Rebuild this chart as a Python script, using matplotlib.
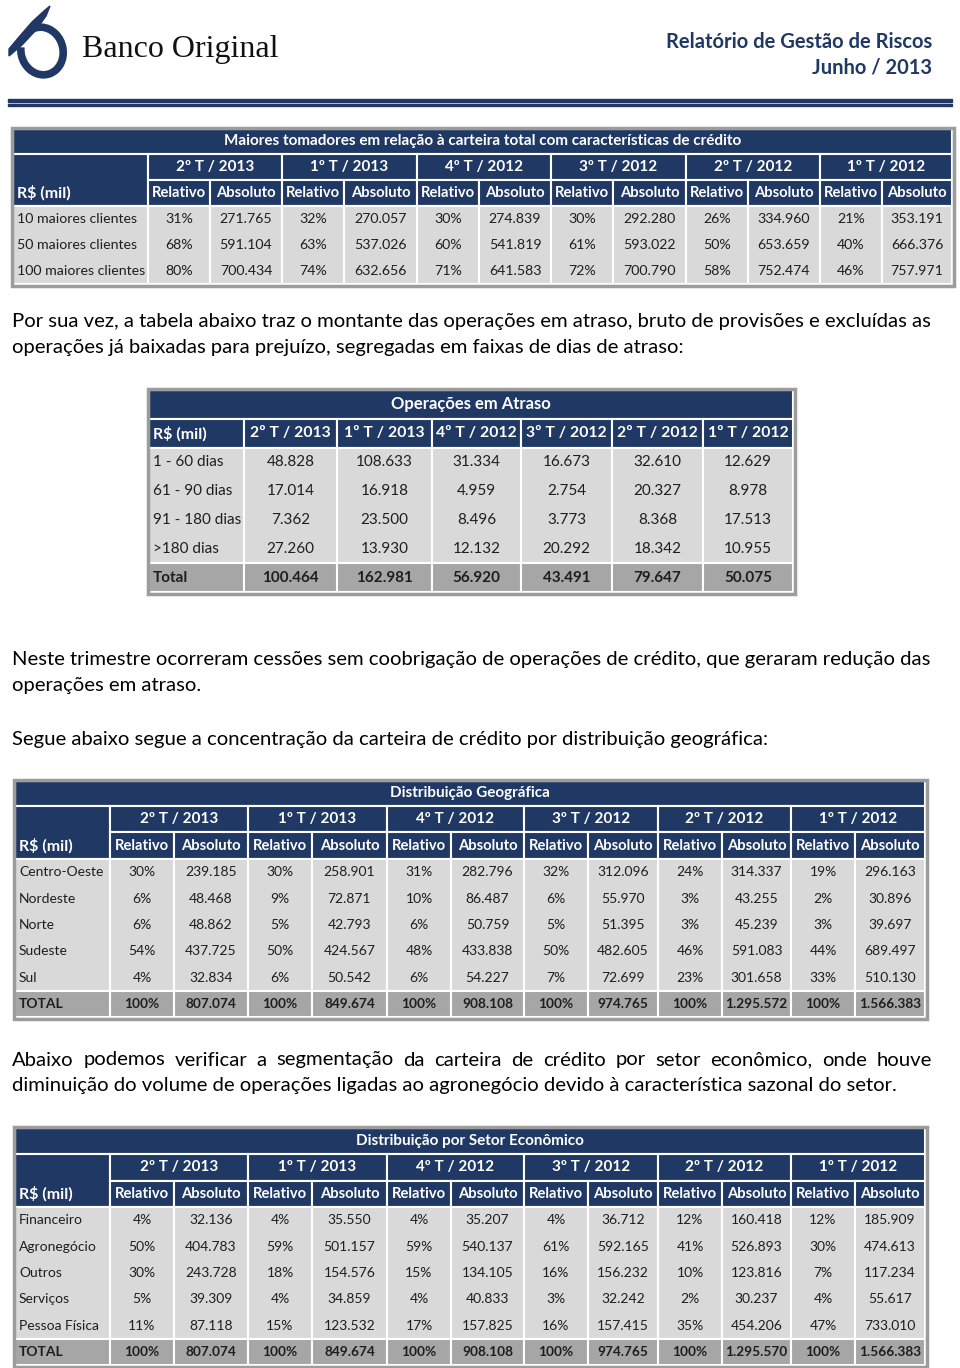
import matplotlib
matplotlib.use('Agg')
import matplotlib.pyplot as plt
from matplotlib.patches import Rectangle, Arc, Polygon

# periods shown in every table
periods = ['2º T / 2013', '1º T / 2013', '4º T / 2012', '3º T / 2012', '2º T / 2012', '1º T / 2012']

# maiores tomadores
top_rows = ['10 maiores clientes', '50 maiores clientes', '100 maiores clientes']
top_rel = [[31, 32, 30, 30, 26, 21],
           [68, 63, 60, 61, 50, 40],
           [80, 74, 71, 72, 58, 46]]
top_abs = [[271765, 270057, 274839, 292280, 334960, 353191],
           [591104, 537026, 541819, 593022, 653659, 666376],
           [700434, 632656, 641583, 700790, 752474, 757971]]

# operacoes em atraso
atraso_rows = ['1 - 60 dias', '61 - 90 dias', '91 - 180 dias', '>180 dias']
atraso_vals = [[48828, 108633, 31334, 16673, 32610, 12629],
               [17014, 16918, 4959, 2754, 20327, 8978],
               [7362, 23500, 8496, 3773, 8368, 17513],
               [27260, 13930, 12132, 20292, 18342, 10955]]
atraso_total = [100464, 162981, 56920, 43491, 79647, 50075]

# distribuicao geografica
geo_rows = ['Centro-Oeste', 'Nordeste', 'Norte', 'Sudeste', 'Sul']
geo_rel = [[30, 30, 31, 32, 24, 19],
           [6, 9, 10, 6, 3, 2],
           [6, 5, 6, 5, 3, 3],
           [54, 50, 48, 50, 46, 44],
           [4, 6, 6, 7, 23, 33]]
geo_abs = [[239185, 258901, 282796, 312096, 314337, 296163],
           [48468, 72871, 86487, 55970, 43255, 30896],
           [48862, 42793, 50759, 51395, 45239, 39697],
           [437725, 424567, 433838, 482605, 591083, 689497],
           [32834, 50542, 54227, 72699, 301658, 510130]]
geo_total = [807074, 849674, 908108, 974765, 1295572, 1566383]

# distribuicao por setor
setor_rows = ['Financeiro', 'Agronegócio', 'Outros', 'Serviços', 'Pessoa Física']
setor_rel = [[4, 4, 4, 4, 12, 12],
             [50, 59, 59, 61, 41, 30],
             [30, 18, 15, 16, 10, 7],
             [5, 4, 4, 3, 2, 4],
             [11, 15, 17, 16, 35, 47]]
setor_abs = [[32136, 35550, 35207, 36712, 160418, 185909],
             [404783, 501157, 540137, 592165, 526893, 474613],
             [243728, 154576, 134105, 156232, 123816, 117234],
             [39309, 34859, 40833, 32242, 30237, 55617],
             [87118, 123532, 157825, 157415, 454206, 733010]]
setor_total = [807074, 849674, 908108, 974765, 1295570, 1566383]

NAVY = '#1f3864'
GRAY = '#d9d9d9'
TOTAL_GRAY = '#a6a6a6'
BORDER = '#9c9c9c'
TXT = '#1e1e1e'
FONT = 'Lato'
BODY = 14.6

fig = plt.figure(figsize=(9.6, 13.68), dpi=100)
ax = fig.add_axes([0, 0, 1, 1])
ax.set_xlim(0, 960)
ax.set_ylim(1368, 0)
ax.axis('off')


def br(v):
    return f'{v:,}'.replace(',', '.')


def cell(x0, x1, y0, y1, color):
    ax.add_patch(Rectangle((x0, y0), x1 - x0, y1 - y0, facecolor=color,
                           edgecolor='white', linewidth=1.5))


def txt(x, y, s, ha='center', color=TXT, bold=False, size=9.5):
    ax.text(x, y, s, ha=ha, va='center', color=color, fontsize=size,
            family=FONT, fontweight='bold' if bold else 'normal')


# ---- page header ----
ax.add_patch(Arc((42, 51), 42, 48, angle=-15, theta1=-110, theta2=205, color=NAVY, lw=5.5))
ax.add_patch(Polygon([(50, 6), (46, 16), (36, 30), (22, 45), (9, 56), (9, 49),
                      (19, 37), (32, 22), (44, 11)], closed=True, color=NAVY))
ax.text(82, 50, 'Banco Original', family='Liberation Serif', fontsize=23,
        va='center', ha='left', color='#111111')
ax.text(932, 42, 'Relatório de Gestão de Riscos', family=FONT, fontweight='bold',
        fontsize=14.5, ha='right', va='center', color=NAVY)
ax.text(932, 68, 'Junho / 2013', family=FONT, fontweight='bold',
        fontsize=14.5, ha='right', va='center', color=NAVY)
ax.add_patch(Rectangle((8, 98.5), 944, 3, color=NAVY))
ax.add_patch(Rectangle((8, 103.5), 944, 2.5, color=NAVY))


def grouped_table(title, labels, rel, absv, xs, y_top, head_h, row_h, rel_w,
                  total=None, size=10.2, head=10.6):
    left, right = xs[0], xs[-1]
    y1 = y_top + head_h[0]
    y2 = y1 + head_h[1]
    y3 = y2 + head_h[2]
    n = len(labels)
    y4 = y3 + n * row_h
    y5 = y4 + (row_h if total is not None else 0)
    ax.add_patch(Rectangle((left - 1.5, y_top - 1.5), right - left + 3, y5 - y_top + 3,
                           fill=False, edgecolor=BORDER, linewidth=2.5, zorder=5))
    cell(left, right, y_top, y1, NAVY)
    txt((left + right) / 2, (y_top + y1) / 2, title, color='white', bold=True, size=11)
    cell(left, xs[1], y1, y3, NAVY)
    txt(left + 4, (y2 + y3) / 2, 'R$ (mil)', ha='left', color='white', bold=True, size=11.5)
    cell(left, xs[1], y3, y4, GRAY)
    for r, lab in enumerate(labels):
        txt(left + 4, y3 + (r + 0.5) * row_h, lab, ha='left', size=size)
    if total is not None:
        cell(left, xs[1], y4, y5, TOTAL_GRAY)
        txt(left + 4, (y4 + y5) / 2, 'TOTAL', ha='left', bold=True, size=size)
    for i, per in enumerate(periods):
        g0, g1 = xs[i + 1], xs[i + 2]
        gm = g0 + rel_w
        cell(g0, g1, y1, y2, NAVY)
        txt((g0 + g1) / 2, (y1 + y2) / 2, per, color='white', bold=True, size=11)
        cell(g0, gm, y2, y3, NAVY)
        txt((g0 + gm) / 2, (y2 + y3) / 2, 'Relativo', color='white', bold=True, size=head)
        cell(gm, g1, y2, y3, NAVY)
        txt((gm + g1) / 2, (y2 + y3) / 2, 'Absoluto', color='white', bold=True, size=head)
        cell(g0, gm, y3, y4, GRAY)
        cell(gm, g1, y3, y4, GRAY)
        for r in range(n):
            yc = y3 + (r + 0.5) * row_h
            txt((g0 + gm) / 2, yc, f'{rel[r][i]}%', size=size)
            txt((gm + g1) / 2, yc, br(absv[r][i]), size=size)
        if total is not None:
            cell(g0, gm, y4, y5, TOTAL_GRAY)
            cell(gm, g1, y4, y5, TOTAL_GRAY)
            txt((g0 + gm) / 2, (y4 + y5) / 2, '100%', bold=True, size=size - 0.2)
            txt((gm + g1) / 2, (y4 + y5) / 2, br(total[i]), bold=True, size=size - 0.2)


grouped_table('Maiores tomadores em relação à carteira total com características de crédito',
              top_rows, top_rel, top_abs,
              [13, 148, 282, 417, 551, 686, 820, 952], 129, [25, 26, 26], 26, 62, size=10.2)

# ---- paragraph 1 ----
ax.text(12, 322, 'Por sua vez, a tabela abaixo traz o montante das operações em atraso, bruto de provisões e excluídas as',
        family=FONT, fontsize=BODY, va='center', ha='left')
ax.text(12, 348, 'operações já baixadas para prejuízo, segregadas em faixas de dias de atraso:',
        family=FONT, fontsize=BODY, va='center', ha='left')

# ---- operacoes em atraso ----
xs2 = [149, 244, 337, 432, 521, 612, 703, 793]
ys2 = [390, 419, 448]
rh2 = 28.8
n2 = len(atraso_rows)
yb2 = ys2[2] + n2 * rh2
yt2 = yb2 + rh2
ax.add_patch(Rectangle((xs2[0] - 1.5, ys2[0] - 1.5), xs2[-1] - xs2[0] + 3, yt2 - ys2[0] + 3,
                       fill=False, edgecolor=BORDER, linewidth=2.5, zorder=5))
cell(xs2[0], xs2[-1], ys2[0], ys2[1], NAVY)
txt((xs2[0] + xs2[-1]) / 2, (ys2[0] + ys2[1]) / 2, 'Operações em Atraso', color='white', bold=True, size=12)
cell(xs2[0], xs2[1], ys2[1], ys2[2], NAVY)
txt(xs2[0] + 4, (ys2[1] + ys2[2]) / 2, 'R$ (mil)', ha='left', color='white', bold=True, size=11.5)
cell(xs2[0], xs2[1], ys2[2], yb2, GRAY)
cell(xs2[0], xs2[1], yb2, yt2, TOTAL_GRAY)
for r, lab in enumerate(atraso_rows):
    txt(xs2[0] + 4, ys2[2] + (r + 0.5) * rh2, lab, ha='left', size=11)
txt(xs2[0] + 4, (yb2 + yt2) / 2, 'Total', ha='left', bold=True, size=11)
for i, per in enumerate(periods):
    c0, c1 = xs2[i + 1], xs2[i + 2]
    cell(c0, c1, ys2[1], ys2[2], NAVY)
    txt((c0 + c1) / 2, (ys2[1] + ys2[2]) / 2, per, color='white', bold=True, size=11.3)
    cell(c0, c1, ys2[2], yb2, GRAY)
    for r in range(n2):
        txt((c0 + c1) / 2, ys2[2] + (r + 0.5) * rh2, br(atraso_vals[r][i]), size=11)
    cell(c0, c1, yb2, yt2, TOTAL_GRAY)
    txt((c0 + c1) / 2, (yb2 + yt2) / 2, br(atraso_total[i]), bold=True, size=11)

# ---- paragraph 2 ----
ax.text(12, 660, 'Neste trimestre ocorreram cessões sem coobrigação de operações de crédito, que geraram redução das',
        family=FONT, fontsize=BODY, va='center', ha='left')
ax.text(12, 686, 'operações em atraso.', family=FONT, fontsize=BODY, va='center', ha='left')
ax.text(12, 739, 'Segue abaixo segue a concentração da carteira de crédito por distribuição geográfica:',
        family=FONT, fontsize=BODY, va='center', ha='left')

xs_big = [15, 110, 248, 387, 524, 658, 791, 925]
grouped_table('Distribuição Geográfica', geo_rows, geo_rel, geo_abs,
              xs_big, 781, [25, 26, 27], 26.4, 64, total=geo_total, size=10)

# ---- paragraph 3 (justified first line) ----
renderer = fig.canvas.get_renderer()
words = 'Abaixo podemos verificar a segmentação da carteira de crédito por setor econômico, onde houve'.split()
objs = [ax.text(0, 1060, w, family=FONT, fontsize=BODY, va='center', ha='left') for w in words]
widths = [o.get_window_extent(renderer).width for o in objs]
gap = (932 - 12 - sum(widths)) / (len(words) - 1)
x = 12
for o, w in zip(objs, widths):
    o.set_x(x)
    x += w + gap
ax.text(12, 1086, 'diminuição do volume de operações ligadas ao agronegócio devido à característica sazonal do setor.',
        family=FONT, fontsize=BODY, va='center', ha='left')

grouped_table('Distribuição por Setor Econômico', setor_rows, setor_rel, setor_abs,
              xs_big, 1128, [26, 27, 26], 26.4, 64, total=setor_total, size=10)

fig.savefig('out.png', dpi=100)
